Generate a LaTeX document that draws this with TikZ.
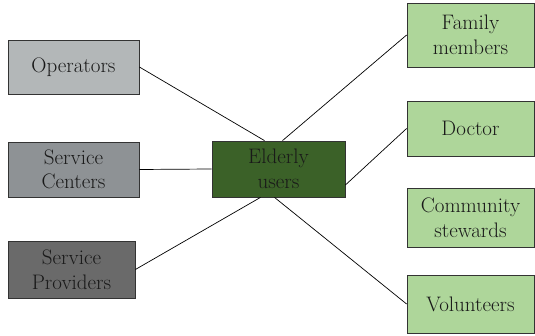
\documentclass[tikz,border=0pt]{standalone}
\begin{document}
\begin{tikzpicture}[x=1pt,y=-1pt,
  box/.style={draw=black!80,line width=0.8pt,minimum width=#1,inner sep=0pt,align=center,font=\fontsize{21}{24.5}\selectfont,text=black!90},
  link/.style={draw=black,line width=0.7pt}]
\useasboundingbox (0,0) rectangle (535,336);
\definecolor{gA}{HTML}{B3B7B8}
\definecolor{gB}{HTML}{8E9295}
\definecolor{gC}{HTML}{6A6A6A}
\definecolor{dg}{HTML}{3B6128}
\definecolor{lg}{HTML}{AED69A}
\node[box=131pt,minimum height=54pt,fill=gA] (op) at (73.5,67) {Operators};
\node[box=131pt,minimum height=55pt,fill=gB] (sc) at (73.5,169.5) {Service\\Centers};
\node[box=127pt,minimum height=57pt,fill=gC] (sp) at (71.5,269.5) {Service\\Providers};
\node[box=133pt,minimum height=56pt,fill=dg] (eu) at (278.5,169) {Elderly\\users};
\node[box=127pt,minimum height=64pt,fill=lg] (fm) at (470.5,35) {Family\\members};
\node[box=127pt,minimum height=55pt,fill=lg] (dr) at (470.5,128.5) {Doctor};
\node[box=127pt,minimum height=59pt,fill=lg] (cs) at (470.5,217.5) {Community\\stewards};
\node[box=127pt,minimum height=58pt,fill=lg] (vo) at (470.5,304) {Volunteers};
\draw[link] (op.east) -- ([xshift=-14pt]eu.north);
\draw[link] (sc.east) -- (eu.west);
\draw[link] (sp.east) -- ([xshift=-18pt]eu.south);
\draw[link] (fm.west) -- ([xshift=4pt]eu.north);
\draw[link] (dr.west) -- ([yshift=-16pt]eu.east);
\draw[link] (vo.west) -- ([xshift=-4pt]eu.south);
\end{tikzpicture}
\end{document}
